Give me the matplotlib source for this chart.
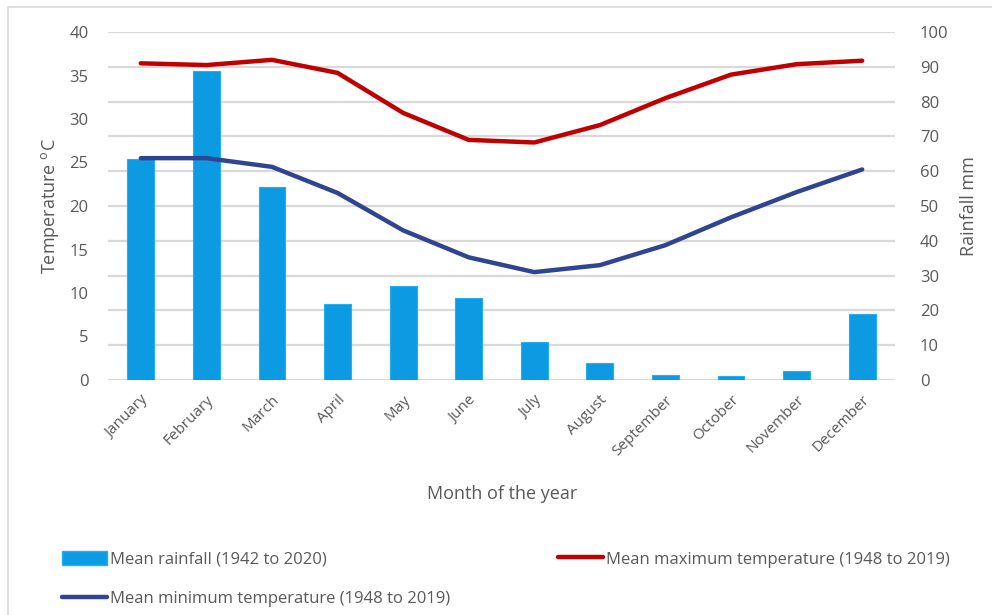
import matplotlib.pyplot as plt
from matplotlib.patches import Rectangle
from matplotlib.lines import Line2D

# Monthly climate data
months = ['January', 'February', 'March', 'April', 'May', 'June',
          'July', 'August', 'September', 'October', 'November', 'December']
rainfall_mm = [63.5, 88.8, 55.5, 21.8, 27.0, 23.6, 10.9, 4.9, 1.4, 1.1, 2.6, 18.9]
max_temp = [36.4, 36.2, 36.8, 35.3, 30.7, 27.6, 27.3, 29.3, 32.4, 35.1, 36.3, 36.7]
min_temp = [25.5, 25.5, 24.5, 21.5, 17.2, 14.1, 12.4, 13.2, 15.5, 18.7, 21.6, 24.2]

plt.rcParams['font.family'] = ['Open Sans', 'DejaVu Sans']
grey = '#595959'
grid_c = '#d9d9d9'
bar_c = '#0c9be3'
red = '#c00000'
navy = '#2f4591'

fig = plt.figure(figsize=(9.92, 6.15), dpi=100)
fig.add_artist(Rectangle((8 / 992, -0.01), 1.0, 1 - 7 / 615 + 0.01,
                         transform=fig.transFigure, fill=False,
                         edgecolor='#d9d9d9', lw=1.2))

ax = fig.add_axes([108 / 992, 1 - 380 / 615, (895 - 108) / 992, 348 / 615])
ax2 = ax.twinx()

x = range(len(months))

# rainfall bars on the secondary axis, behind the temperature lines
ax2.bar(x, rainfall_mm, width=0.41, color=bar_c, edgecolor='#1fb1f2', lw=0.8,
        zorder=2)
ax2.set_ylim(0, 100)
ax2.set_yticks(range(0, 101, 10))

ax.set_zorder(ax2.get_zorder() + 1)
ax.patch.set_visible(False)
ax.plot(x, max_temp, color=red, lw=3.2, solid_capstyle='round',
        solid_joinstyle='round', zorder=3)
ax.plot(x, min_temp, color=navy, lw=3.2, solid_capstyle='round',
        solid_joinstyle='round', zorder=3)
ax.set_ylim(0, 40)
ax.set_yticks(range(0, 41, 5))
ax.set_xlim(-0.5, 11.5)

for a in (ax, ax2):
    for s in a.spines.values():
        s.set_visible(False)
    a.tick_params(length=0, labelsize=12, labelcolor=grey)

ax2.yaxis.grid(True, color=grid_c, lw=1.6, zorder=0)
ax2.set_axisbelow(True)
ax.tick_params(axis='y', pad=14)
ax2.tick_params(axis='y', pad=18)

ax.set_xticks(list(x))
ax.set_xticklabels(months, rotation=45, ha='right', rotation_mode='anchor',
                   fontsize=11)
ax.tick_params(axis='x', pad=9)

ax.set_ylabel('Temperature $^\\mathregular{o}$C', fontsize=13, color=grey,
              labelpad=6)
ax2.set_ylabel('Rainfall mm', fontsize=13, color=grey, labelpad=8)
fig.text(502 / 992, 1 - 494 / 615, 'Month of the year', fontsize=13,
         color=grey, ha='center', va='center')

# legend split over two columns
h_rain = Rectangle((0, 0), 1, 1, facecolor=bar_c, edgecolor='#1fb1f2')
h_max = Line2D([], [], color=red, lw=3.2, solid_capstyle='round')
h_min = Line2D([], [], color=navy, lw=3.2, solid_capstyle='round')
leg1 = fig.legend([h_rain, h_min],
                  ['Mean rainfall (1942 to 2020)',
                   'Mean minimum temperature (1948 to 2019)'],
                  loc='upper left', bbox_to_anchor=(47 / 992, 1 - 536 / 615),
                  frameon=False, fontsize=12, handlelength=2.7,
                  handleheight=0.9, handletextpad=0.15, labelspacing=1.35,
                  labelcolor=grey)
leg2 = fig.legend([h_max], ['Mean maximum temperature (1948 to 2019)'],
                  loc='upper left', bbox_to_anchor=(543 / 992, 1 - 536 / 615),
                  frameon=False, fontsize=12, handlelength=2.7,
                  handleheight=0.9, handletextpad=0.15, labelcolor=grey)

fig.savefig('out.png', dpi=100)
